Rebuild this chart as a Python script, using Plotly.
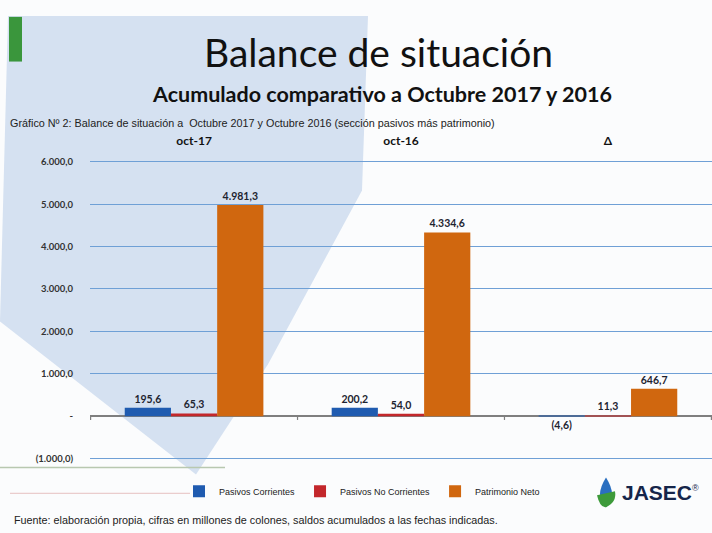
import plotly.graph_objects as go

categories = ["oct-17", "oct-16", "Δ"]
series_names = ["Pasivos Corrientes", "Pasivos No Corrientes", "Patrimonio Neto"]
pasivos_corrientes = [195.6, 200.2, -4.6]
pasivos_no_corrientes = [65.3, 54.0, 11.3]
patrimonio_neto = [4981.3, 4334.6, 646.7]
tick_vals = [-1000, 0, 1000, 2000, 3000, 4000, 5000, 6000]
colors = ["#1f5bb0", "#c3272b", "#d0670f"]

W, H = 712, 533
Y_MIN, Y_MAX = -1080, 6080


def fmt(v):
    s = f"{abs(v):,.1f}".replace(",", "X").replace(".", ",").replace("X", ".")
    return f"({s})" if v < 0 else s


def fmt_tick(v):
    if v == 0:
        return "-"
    return fmt(v)


fig = go.Figure()
for name, vals, col in zip(series_names, [pasivos_corrientes, pasivos_no_corrientes, patrimonio_neto], colors):
    fig.add_trace(go.Bar(
        x=categories, y=vals, name=name, marker_color=col, marker_line_width=0,
        text=[fmt(v) for v in vals], textposition="outside", cliponaxis=False,
        textfont=dict(family="Lato", size=10.5, color="#1e2430", weight="bold"),
    ))


def px_x(p):
    return p / W


def px_y(p):
    return 1 - p / H


top_px, bot_px = 161, 460
per = (bot_px - top_px) / 7000.0
dom_top = px_y(top_px - (Y_MAX - 6000) * per)
dom_bot = px_y(bot_px + (-1000 - Y_MIN) * per)

shapes = []
path = "M {} {} L {} {} L {} {} L {} {} L {} {} L {} {} Z".format(
    px_x(8), px_y(14), px_x(368), px_y(14), px_x(362), px_y(190),
    px_x(268), px_y(365), px_x(196), px_y(476), px_x(0), px_y(322))
shapes.append(dict(type="path", xref="paper", yref="paper", path=path,
                   fillcolor="#d5e1f1", line_width=0, layer="below"))
shapes.append(dict(type="rect", xref="paper", yref="paper", x0=px_x(9), x1=px_x(22), y0=px_y(60), y1=px_y(15),
                   fillcolor="#3a963c", line_width=0, layer="below"))
shapes.append(dict(type="line", xref="paper", yref="paper", x0=0, x1=px_x(225), y0=px_y(469), y1=px_y(469),
                   line=dict(color="#b8c8b0", width=1.5), layer="below"))
shapes.append(dict(type="line", xref="paper", yref="paper", x0=px_x(10), x1=px_x(190), y0=px_y(495), y1=px_y(495),
                   line=dict(color="#e6c0c0", width=1), layer="below"))
for i in range(len(categories) + 1):
    shapes.append(dict(type="line", xref="x", yref="y", x0=i - 0.5, x1=i - 0.5, y0=0, y1=-90,
                       line=dict(color="#7f7f7f", width=1.2)))
shapes.append(dict(type="path", xref="paper", yref="paper",
                   path="M {} {} Q {} {} {} {} Q {} {} {} {} Z".format(
                       px_x(606), px_y(479), px_x(594), px_y(498), px_x(606), px_y(509),
                       px_x(618), px_y(498), px_x(606), px_y(479)),
                   fillcolor="#2a6fc0", line_width=0))
shapes.append(dict(type="path", xref="paper", yref="paper",
                   path="M {} {} Q {} {} {} {} Q {} {} {} {} Z".format(
                       px_x(597), px_y(497), px_x(600), px_y(510), px_x(606), px_y(509),
                       px_x(617), px_y(504), px_x(615), px_y(493)),
                   fillcolor="#3d9a3a", line_width=0))

annotations = [
    dict(text="Balance de situación", x=px_x(378), y=px_y(50), xref="paper", yref="paper",
         showarrow=False, font=dict(family="Lato", size=39, color="#111111"), xanchor="center", yanchor="middle"),
    dict(text="Acumulado comparativo a Octubre 2017 y 2016", x=px_x(382), y=px_y(93), xref="paper", yref="paper",
         showarrow=False, font=dict(family="Lato", size=21.5, color="#111111", weight="bold"),
         xanchor="center", yanchor="middle"),
    dict(text="Gráfico Nº 2: Balance de situación a  Octubre 2017 y Octubre 2016 (sección pasivos más patrimonio)",
         x=px_x(8), y=px_y(122), xref="paper", yref="paper", showarrow=False,
         font=dict(family="Liberation Sans", size=10.8, color="#222222"),
         xanchor="left", yanchor="middle"),
    dict(text="Fuente: elaboración propia, cifras en millones de colones, saldos acumulados a las fechas indicadas.",
         x=px_x(12), y=px_y(522), xref="paper", yref="paper", showarrow=False,
         font=dict(family="Liberation Sans", size=10.8, color="#222222"),
         xanchor="left", yanchor="middle"),
    dict(text="<b>JASEC</b><sup><span style='font-size:9px'>®</span></sup>", x=px_x(620), y=px_y(494),
         xref="paper", yref="paper", showarrow=False,
         font=dict(family="Liberation Sans", size=21, color="#15254a"), xanchor="left", yanchor="middle"),
]

fig.update_layout(
    width=W, height=H, autosize=False,
    margin=dict(l=0, r=0, t=0, b=0),
    paper_bgcolor="#fbfcfd", plot_bgcolor="rgba(0,0,0,0)",
    barmode="group", bargap=0.33, bargroupgap=0,
    font=dict(family="Lato", color="#222222"),
    shapes=shapes, annotations=annotations,
    showlegend=True,
    legend=dict(orientation="h", x=px_x(362), y=px_y(493), xanchor="center", yanchor="middle",
                font=dict(family="Liberation Sans", size=9, color="#222222"),
                bgcolor="rgba(0,0,0,0)", itemwidth=30, traceorder="normal"),
    xaxis=dict(domain=[px_x(90), 1.0], side="top", showgrid=False, showline=False, ticks="",
               tickfont=dict(family="Lato", size=12, color="#111111", weight="bold"),
               ticklabelstandoff=10, fixedrange=True),
    yaxis=dict(domain=[dom_bot, dom_top], range=[Y_MIN, Y_MAX], tickvals=tick_vals,
               ticktext=[fmt_tick(v) for v in tick_vals], showgrid=True, gridcolor="#6fa0d6", gridwidth=1,
               zeroline=True, zerolinecolor="#7f7f7f", zerolinewidth=1.5, showline=False, ticks="",
               tickfont=dict(family="Lato", size=9.5, color="#333333", weight="bold"), ticklabelstandoff=16,
               fixedrange=True),
)

post = ("document.documentElement.style.overflow='hidden';document.body.style.margin='0';"
        "document.body.style.overflow='hidden';"
        "var d=document.getElementById('{plot_id}');d.style.position='fixed';d.style.top='0';d.style.left='0';")
fig.write_html("out.html", config={"displayModeBar": False}, post_script=post)
